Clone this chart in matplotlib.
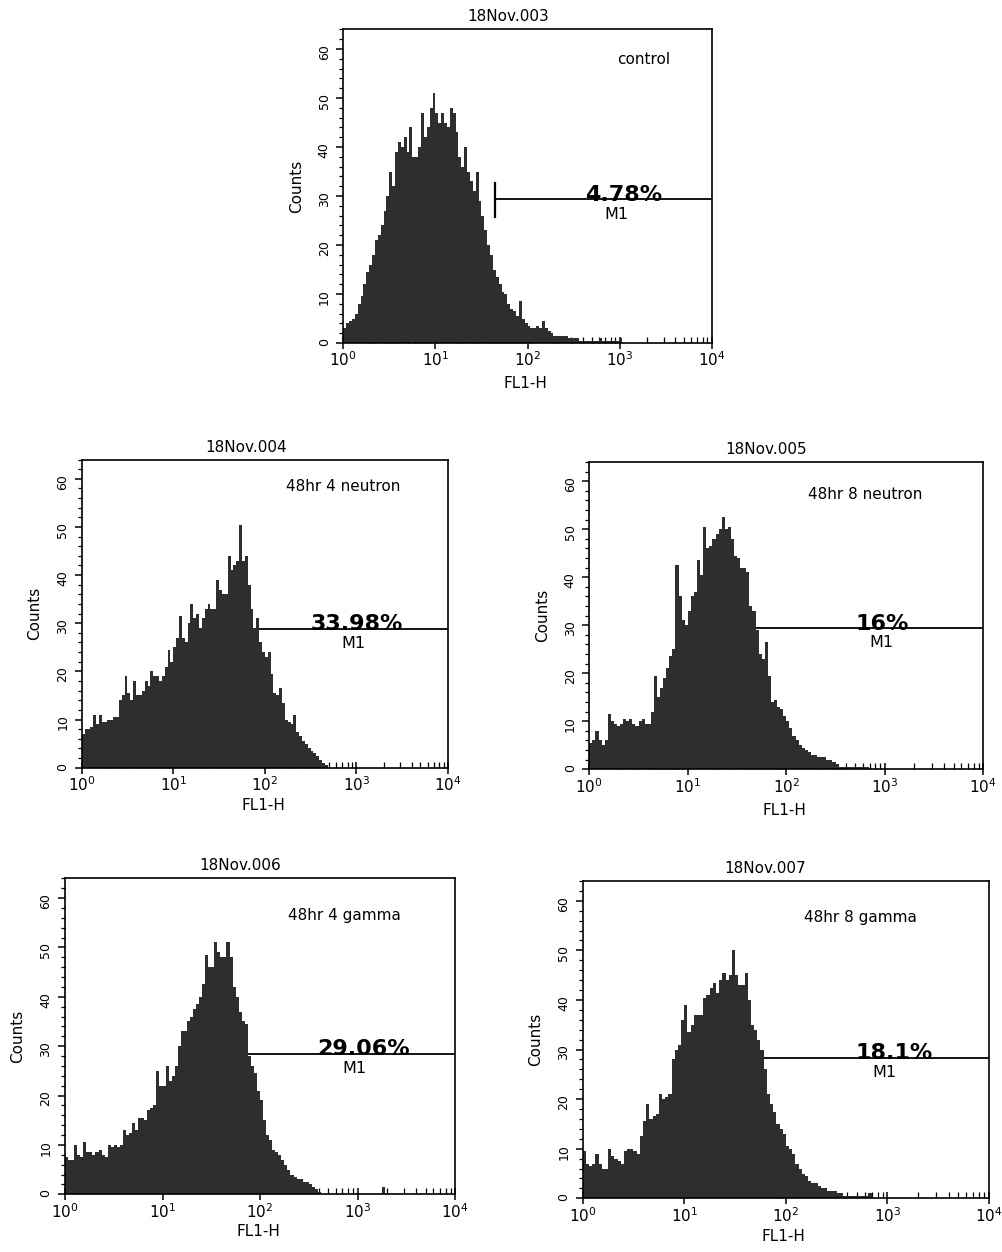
import numpy as np
import matplotlib.pyplot as plt
from matplotlib.ticker import MultipleLocator, LogLocator, NullFormatter

plt.rcParams['mathtext.default'] = 'regular'
plt.rcParams['font.family'] = 'DejaVu Sans'

# histogram counts, 32 channels per decade starting at 10^0
control = [3, 4, 4.5, 5, 6, 8, 9.5, 12, 14.5, 16, 18, 21, 22, 24, 27, 30,
           35, 32, 39, 41, 40, 42, 39, 44, 38, 38, 40, 47, 42, 44, 48, 51,
           47, 45, 47, 45, 44, 48, 47, 43, 38, 36, 40, 35, 33, 31, 35, 29,
           26, 23, 20, 18, 15, 13.5, 12, 10.5, 10, 8, 7, 6.5, 5.5, 8.5, 5, 4,
           3.5, 3, 3, 3.5, 3, 4.5, 3, 2.5, 2, 1.5, 1.5, 1.5, 1.5, 1.5, 1, 1,
           1, 1, 0.5, 0.5, 0.5, 0.5, 0.5, 0.5, 0.5, 1, 0.5, 0.5, 0.5, 0.5, 0.5, 0.5,
           1]
neutron4 = [7, 8, 8, 8.5, 11, 9, 11, 9.5, 9.5, 10, 10, 10.5, 10.5, 14, 15, 19,
            15.5, 14, 18, 15, 15, 16, 18, 17, 20, 19, 19, 18, 19, 21, 24.5, 22,
            25, 27, 31.5, 27, 26, 30, 34, 31, 32, 29, 31, 33, 34, 33, 33, 39,
            37, 36, 36, 44, 41, 42, 43, 50.5, 43, 44, 38, 33, 29, 31, 26, 24,
            23, 24, 19.5, 15.5, 15, 16.5, 13.5, 10, 9.5, 9, 11, 7.5, 6.5, 5.5, 5, 4,
            3.5, 3, 2.5, 1.5, 1, 0.5]
neutron8 = [5.5, 6, 8, 6, 5, 6, 11.5, 10, 9.5, 9, 9.5, 10.5, 10, 10.5, 9.5, 9,
            10, 10.5, 9.5, 9.5, 12, 19.5, 15, 17, 19, 21, 23.5, 25, 42.5, 36, 31, 30,
            33, 36, 37, 43.5, 40.5, 50.5, 46, 46.5, 48, 49, 50, 52.5, 50, 50.5, 48, 44.5,
            44, 42, 42, 41, 34, 33, 29, 24, 23, 26.5, 19.5, 14, 14.5, 13, 12.5, 11,
            10, 8.5, 7, 6, 5, 4.5, 4, 3.5, 3, 3, 2.5, 2.5, 2.5, 2, 2, 1.5,
            1, 0.5, 0.5, 0.5, 0.5, 0.5, 0.5, 0.5, 0.5, 0.5, 0.5]
gamma4 = [7.5, 7, 7, 10, 8, 7.5, 10.5, 8.5, 8.5, 8, 8.5, 9, 8, 7.5, 10, 9.5,
          10, 9.5, 10, 13, 12, 12.5, 14.5, 13, 15.5, 15.5, 15, 17, 17.5, 18, 25, 22,
          22, 26, 23, 24, 26, 30, 33, 33, 35, 36, 37.5, 38.5, 40, 42.5, 48.5, 46,
          46, 51, 49, 48, 48, 51, 48, 42, 40, 37, 35, 34.5, 28, 26, 24.5, 21,
          19, 15, 12, 11, 9, 8.5, 8, 7, 6, 5, 4, 3.5, 3, 3, 2.5, 2.5,
          2, 1.5, 1, 0.5, 0, 0, 0, 0, 0, 0, 0, 0, 0, 0, 0, 0,
          0, 0, 0, 0, 0, 0, 0, 0, 1.5]
gamma8 = [9.5, 7, 6.5, 7, 9, 7, 6, 6, 10, 8.5, 8, 7.5, 7, 9.5, 10, 10,
          9.5, 9, 12.5, 15.5, 19, 16, 16.5, 17, 21, 20, 20.5, 21, 28, 30, 31, 36,
          39, 33.5, 35, 37, 37, 37, 40.5, 41, 42.5, 43.5, 41.5, 44, 45.5, 44, 45, 50,
          45, 43, 43, 45.5, 40, 35, 34, 32, 30, 26, 21, 19, 17.5, 15, 14, 13,
          10.5, 10, 9, 7, 6, 5, 4.5, 3.5, 3, 3, 2.5, 2, 2, 1.5, 1.5, 1.5,
          1, 1, 0.5, 0.5, 0.5, 0.5, 0.5, 0.5, 0.5, 0.5, 1]

titles = ['18Nov.003', '18Nov.004', '18Nov.005', '18Nov.006', '18Nov.007']
notes = ['control', '48hr 4 neutron', '48hr 8 neutron', '48hr 4 gamma', '48hr 8 gamma']
percents = ['4.78%', '33.98%', '16%', '29.06%', '18.1%']
gate_start = 44
gate_y = [29.3, 28.8, 29.4, 28.5, 28.3]
series = [control, neutron4, neutron8, gamma4, gamma8]

# panel boxes in pixels: left, top, right, bottom
W, H = 1003, 1252
boxes = [(343.3, 29.5, 711.7, 343), (81.7, 459.5, 448, 767.7), (589.3, 462, 983.3, 769.3),
         (65, 878.3, 455, 1194.3), (582.7, 881, 989, 1198.3)]
note_pos = [(3.26, 57.8), (2.86, 58.4), (2.8, 57.2), (2.87, 56.4), (2.73, 56.6)]
pct_x = [3.04, 3.0, 2.97, 3.06, 3.07]
xlab_off = [41, 38, 41, 37, 38]

fig = plt.figure(figsize=(W / 100, H / 100), dpi=100)
fill = '#2e2e2e'

for i, counts in enumerate(series):
    l, t, r, b = boxes[i]
    ax = fig.add_axes([l / W, 1 - b / H, (r - l) / W, (b - t) / H])
    edges = 10 ** (np.arange(len(counts) + 1) / 32)
    ax.stairs(counts, edges, fill=True, color=fill, zorder=2)

    gy = gate_y[i]
    ax.plot([gate_start, 1e4], [gy, gy], color='black', lw=1.3, zorder=1)
    ax.plot([gate_start, gate_start], [gy - 3.5, gy + 3.3], color='black', lw=1.6, zorder=1)
    ax.text(10 ** pct_x[i], gy - 0.3, percents[i], ha='center', va='baseline',
            fontsize=16, fontweight='bold', zorder=5)
    ax.text(10 ** 2.97, gy - 1.5, 'M1', ha='center', va='top', fontsize=11.5, zorder=5)
    ax.text(10 ** note_pos[i][0], note_pos[i][1], notes[i], ha='center', va='center', fontsize=11)

    ax.set_xscale('log')
    ax.set_xlim(1, 1e4)
    ax.set_ylim(0, 64)
    ax.xaxis.set_major_locator(LogLocator(base=10))
    ax.xaxis.set_minor_locator(LogLocator(base=10, subs=np.arange(2, 10)))
    ax.xaxis.set_minor_formatter(NullFormatter())
    ax.yaxis.set_major_locator(MultipleLocator(10))
    ax.yaxis.set_minor_locator(MultipleLocator(2))
    ax.tick_params(axis='x', which='major', direction='inout', length=9, width=1.1,
                   labelsize=11, pad=1)
    ax.tick_params(axis='x', which='minor', direction='in', length=4, width=0.9)
    ax.tick_params(axis='y', which='major', direction='out', length=5, width=1.1,
                   labelsize=9, labelrotation=90, pad=4)
    ax.tick_params(axis='y', which='minor', direction='out', length=3, width=0.9)
    for s in ax.spines.values():
        s.set_linewidth(1.2)

    ax.annotate(titles[i], xy=(0.448, 1), xycoords='axes fraction', xytext=(0, 5),
                textcoords='offset pixels', ha='center', va='bottom', fontsize=11)
    ax.annotate('Counts', xy=(0, 0.5), xycoords='axes fraction', xytext=(-47, 0),
                textcoords='offset pixels', rotation=90, ha='center', va='center', fontsize=11)
    ax.annotate('FL1-H', xy=(0.495, 0), xycoords='axes fraction', xytext=(0, -xlab_off[i]),
                textcoords='offset pixels', ha='center', va='center', fontsize=11)

fig.savefig('out.png', dpi=100, facecolor='white')
